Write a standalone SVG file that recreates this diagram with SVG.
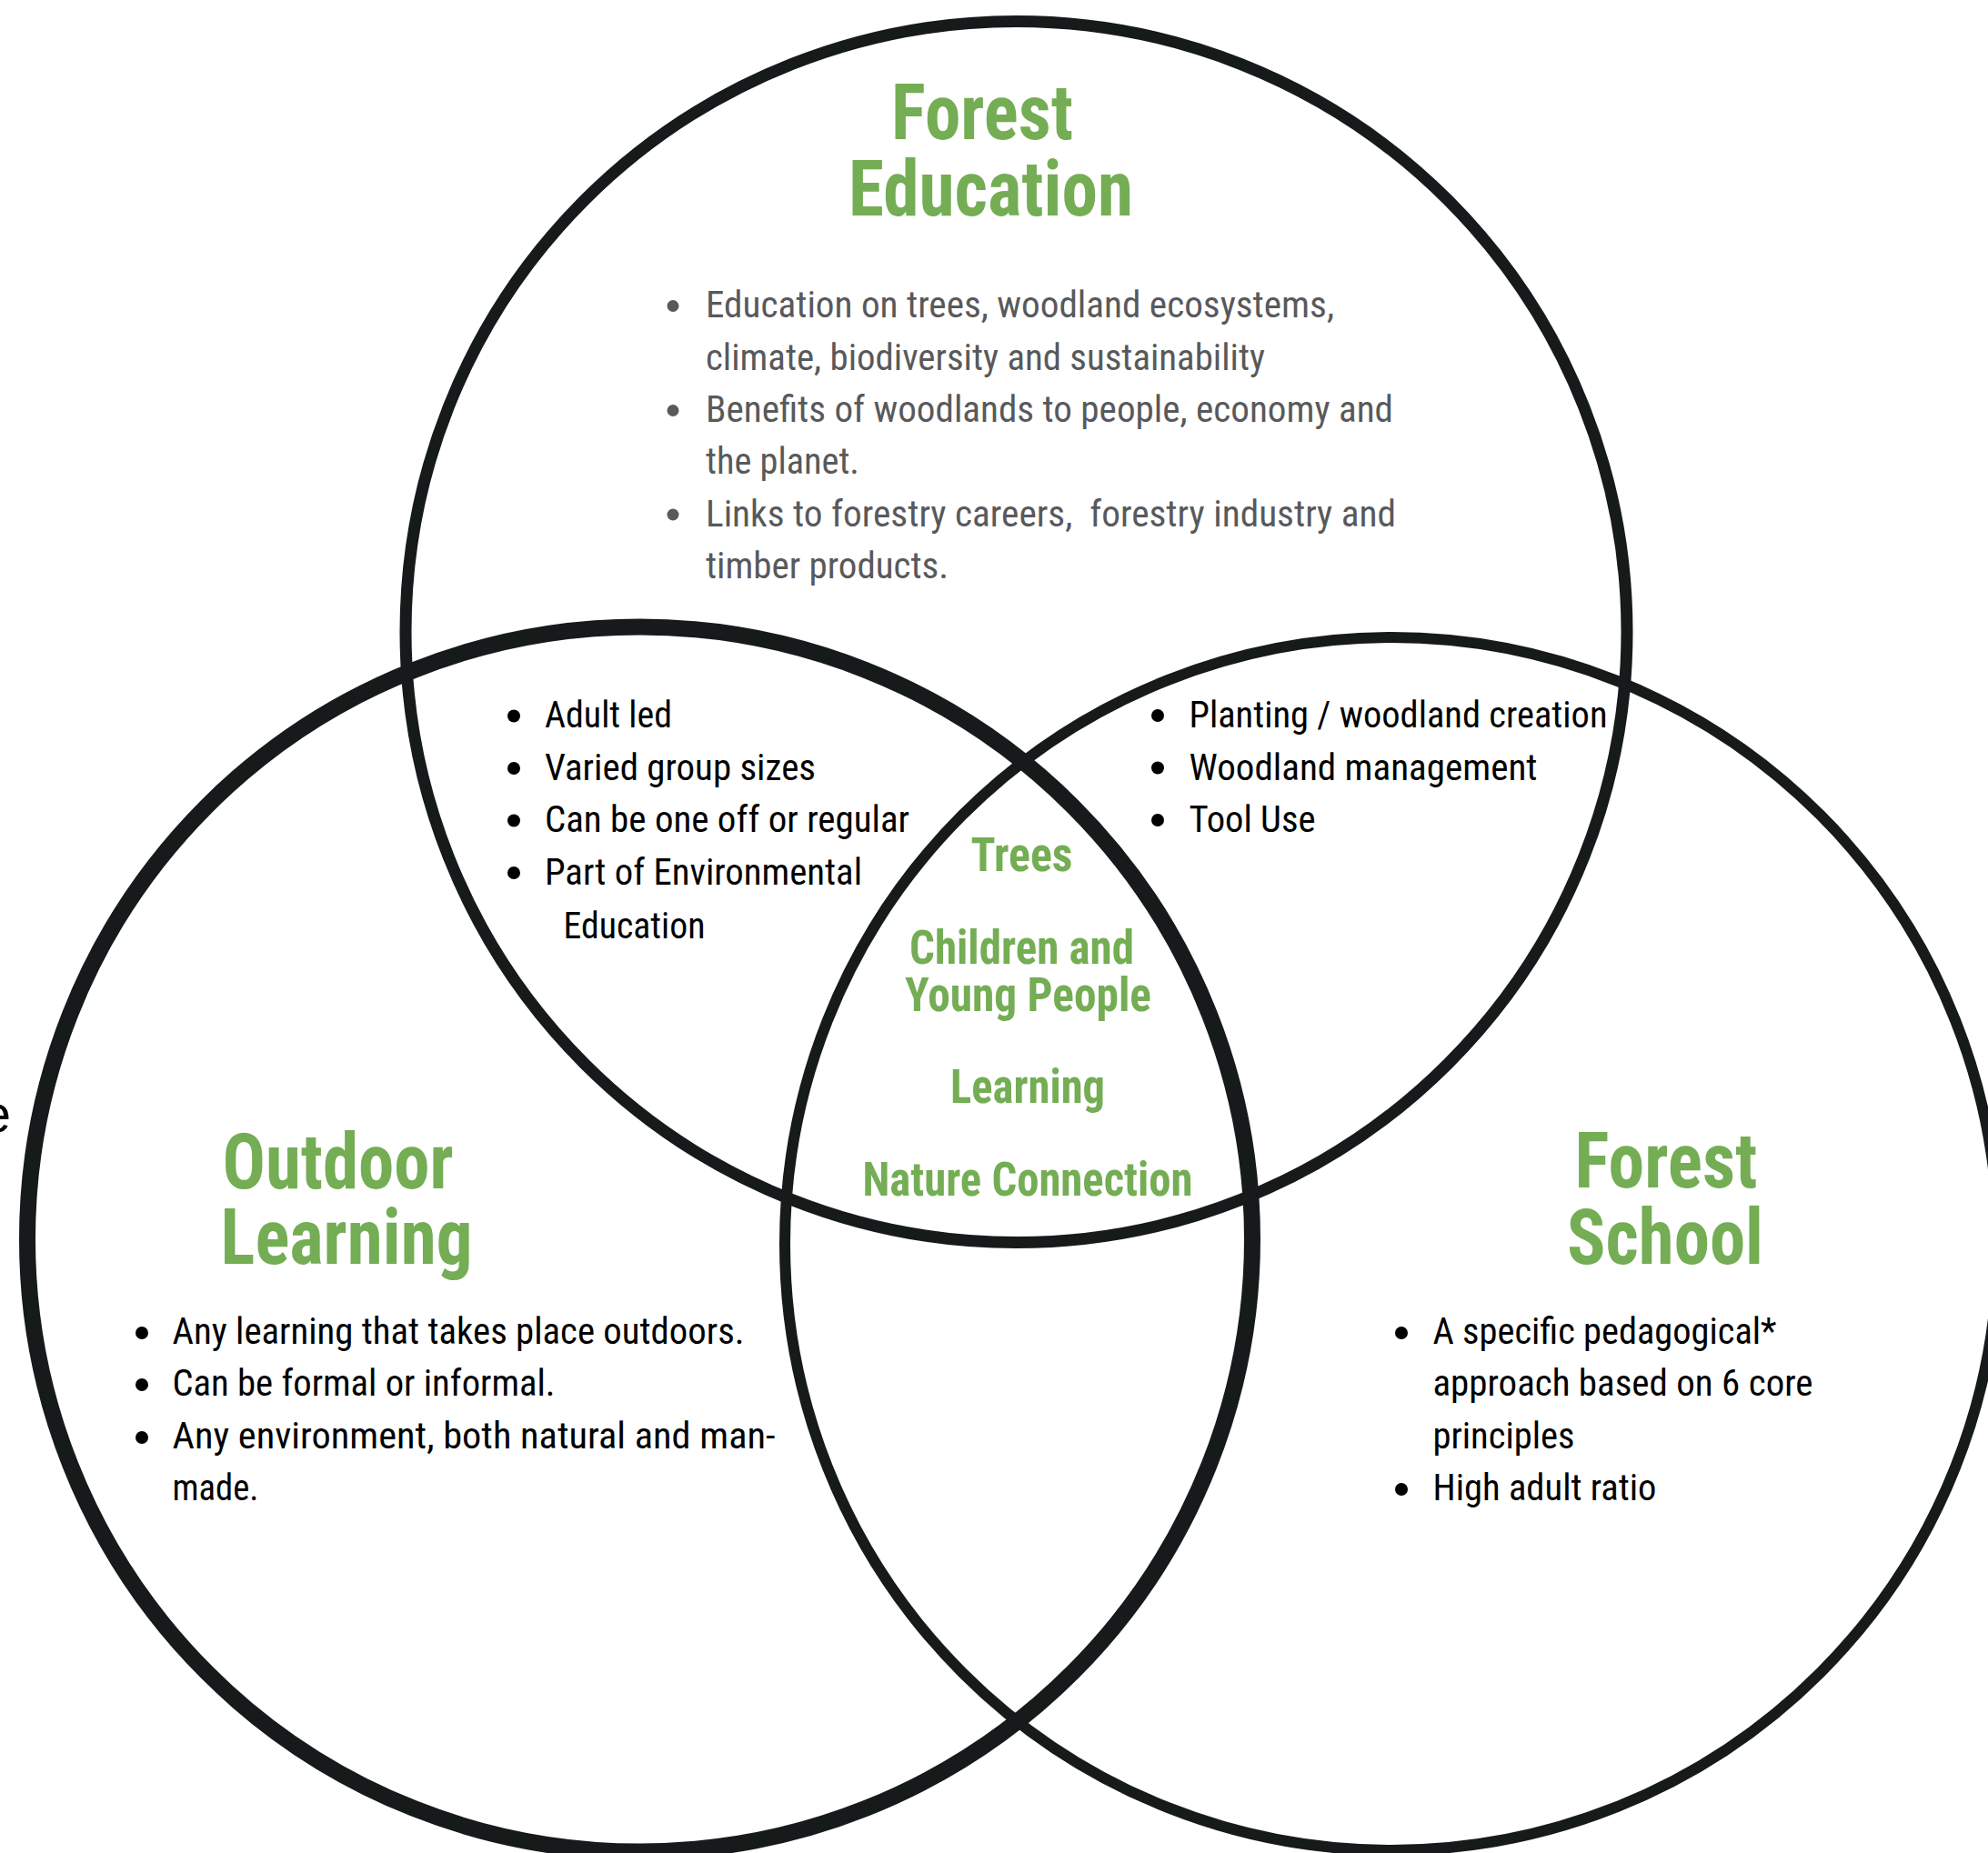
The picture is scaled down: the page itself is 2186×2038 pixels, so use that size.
<svg xmlns="http://www.w3.org/2000/svg" width="2186" height="2038" viewBox="0 0 2186 2038">
<style>
.ring{fill:none;stroke:#161a1a}
.title{font-family:"Liberation Sans Narrow","Arial Narrow","Roboto Condensed","DejaVu Sans Condensed","Liberation Sans",sans-serif;font-stretch:condensed;font-weight:bold;font-size:86px;fill:#74ad54}
.core{font-family:"Liberation Sans Narrow","Arial Narrow","Roboto Condensed","DejaVu Sans Condensed","Liberation Sans",sans-serif;font-stretch:condensed;font-weight:bold;font-size:51px;fill:#74ad54}
.body{font-family:"Liberation Sans Narrow","Arial Narrow","Roboto Condensed","DejaVu Sans Condensed","Liberation Sans",sans-serif;font-stretch:condensed;font-size:41px;fill:#000}
.grey{fill:#58595b}
.dot{fill:#000}
.gdot{fill:#58595b}
</style>
<rect width="2186" height="2038" fill="#fff"/>
<g id="circles">
  <circle id="ring-forest-education" class="ring" cx="1117.5" cy="695" r="671.5" stroke-width="13"/>
  <circle id="ring-outdoor-learning" class="ring" cx="703.5" cy="1363" r="673.5" stroke-width="18"/>
  <circle id="ring-forest-school" class="ring" cx="1530" cy="1368" r="667" stroke-width="12"/>
</g>
<g id="connectors"></g>
<text id="stray-e" x="12" y="1245" text-anchor="end" style="font-family:'Liberation Sans',sans-serif;font-size:58px;fill:#000">e</text>
<g id="forest-education">
  <text class="title" x="980" y="153" textLength="200" lengthAdjust="spacingAndGlyphs">Forest</text>
  <text class="title" x="933" y="237" textLength="313" lengthAdjust="spacingAndGlyphs">Education</text>
  <circle class="gdot" cx="740" cy="336.5" r="6.5"/>
  <circle class="gdot" cx="740" cy="451.5" r="6.5"/>
  <circle class="gdot" cx="740" cy="566" r="6.5"/>
  <text class="body grey" x="776" y="349" textLength="691" lengthAdjust="spacingAndGlyphs">Education on trees, woodland ecosystems,</text>
  <text class="body grey" x="776" y="406.5" textLength="615" lengthAdjust="spacingAndGlyphs">climate, biodiversity and sustainability</text>
  <text class="body grey" x="776" y="464" textLength="756" lengthAdjust="spacingAndGlyphs">Benefits of woodlands to people, economy and</text>
  <text class="body grey" x="776" y="521" textLength="169" lengthAdjust="spacingAndGlyphs">the planet.</text>
  <text class="body grey" x="776" y="578.5" textLength="759" lengthAdjust="spacingAndGlyphs">Links to forestry careers,&#160; forestry industry and</text>
  <text class="body grey" x="776" y="636" textLength="267" lengthAdjust="spacingAndGlyphs">timber products.</text>
</g>
<g id="education-outdoor-overlap">
  <circle class="dot" cx="565" cy="787.5" r="7"/>
  <circle class="dot" cx="565" cy="845" r="7"/>
  <circle class="dot" cx="565" cy="902.5" r="7"/>
  <circle class="dot" cx="565" cy="960" r="7"/>
  <text class="body" x="599" y="800" textLength="140" lengthAdjust="spacingAndGlyphs">Adult led</text>
  <text class="body" x="599" y="857.5" textLength="298" lengthAdjust="spacingAndGlyphs">Varied group sizes</text>
  <text class="body" x="599" y="915" textLength="401" lengthAdjust="spacingAndGlyphs">Can be one off or regular</text>
  <text class="body" x="599" y="972.5" textLength="349" lengthAdjust="spacingAndGlyphs">Part of Environmental</text>
  <text class="body" x="619.5" y="1031.5" textLength="156" lengthAdjust="spacingAndGlyphs">Education</text>
</g>
<g id="education-school-overlap">
  <circle class="dot" cx="1273" cy="787" r="7"/>
  <circle class="dot" cx="1273" cy="844.5" r="7"/>
  <circle class="dot" cx="1273" cy="902" r="7"/>
  <text class="body" x="1307.5" y="800" textLength="460" lengthAdjust="spacingAndGlyphs">Planting / woodland creation</text>
  <text class="body" x="1307.5" y="857.5" textLength="383" lengthAdjust="spacingAndGlyphs">Woodland management</text>
  <text class="body" x="1307.5" y="915" textLength="139" lengthAdjust="spacingAndGlyphs">Tool Use</text>
</g>
<g id="centre">
  <text class="core" x="1067.5" y="958" textLength="112" lengthAdjust="spacingAndGlyphs">Trees</text>
  <text class="core" x="1000" y="1060" textLength="247" lengthAdjust="spacingAndGlyphs">Children and</text>
  <text class="core" x="995" y="1111.5" textLength="271" lengthAdjust="spacingAndGlyphs">Young People</text>
  <text class="core" x="1045" y="1213" textLength="170" lengthAdjust="spacingAndGlyphs">Learning</text>
  <text class="core" x="948.5" y="1315" textLength="363" lengthAdjust="spacingAndGlyphs">Nature Connection</text>
</g>
<g id="outdoor-learning">
  <text class="title" x="244.5" y="1306.5" textLength="254" lengthAdjust="spacingAndGlyphs">Outdoor</text>
  <text class="title" x="242.5" y="1390" textLength="277" lengthAdjust="spacingAndGlyphs">Learning</text>
  <circle class="dot" cx="156" cy="1466" r="7"/>
  <circle class="dot" cx="156" cy="1523" r="7"/>
  <circle class="dot" cx="156" cy="1581" r="7"/>
  <text class="body" x="189.5" y="1478" textLength="629" lengthAdjust="spacingAndGlyphs">Any learning that takes place outdoors.</text>
  <text class="body" x="189.5" y="1535" textLength="421" lengthAdjust="spacingAndGlyphs">Can be formal or informal.</text>
  <text class="body" x="189.5" y="1593" textLength="663" lengthAdjust="spacingAndGlyphs">Any environment, both natural and man-</text>
  <text class="body" x="189.5" y="1650" textLength="95" lengthAdjust="spacingAndGlyphs">made.</text>
</g>
<g id="forest-school">
  <text class="title" x="1731.5" y="1306" textLength="201" lengthAdjust="spacingAndGlyphs">Forest</text>
  <text class="title" x="1723" y="1390" textLength="216" lengthAdjust="spacingAndGlyphs">School</text>
  <circle class="dot" cx="1541" cy="1466" r="7"/>
  <circle class="dot" cx="1541" cy="1638" r="7"/>
  <text class="body" x="1575.5" y="1478" textLength="378" lengthAdjust="spacingAndGlyphs">A specific pedagogical*</text>
  <text class="body" x="1575.5" y="1535" textLength="418" lengthAdjust="spacingAndGlyphs">approach based on 6 core</text>
  <text class="body" x="1575.5" y="1593" textLength="156" lengthAdjust="spacingAndGlyphs">principles</text>
  <text class="body" x="1575.5" y="1650" textLength="246" lengthAdjust="spacingAndGlyphs">High adult ratio</text>
</g>
</svg>
